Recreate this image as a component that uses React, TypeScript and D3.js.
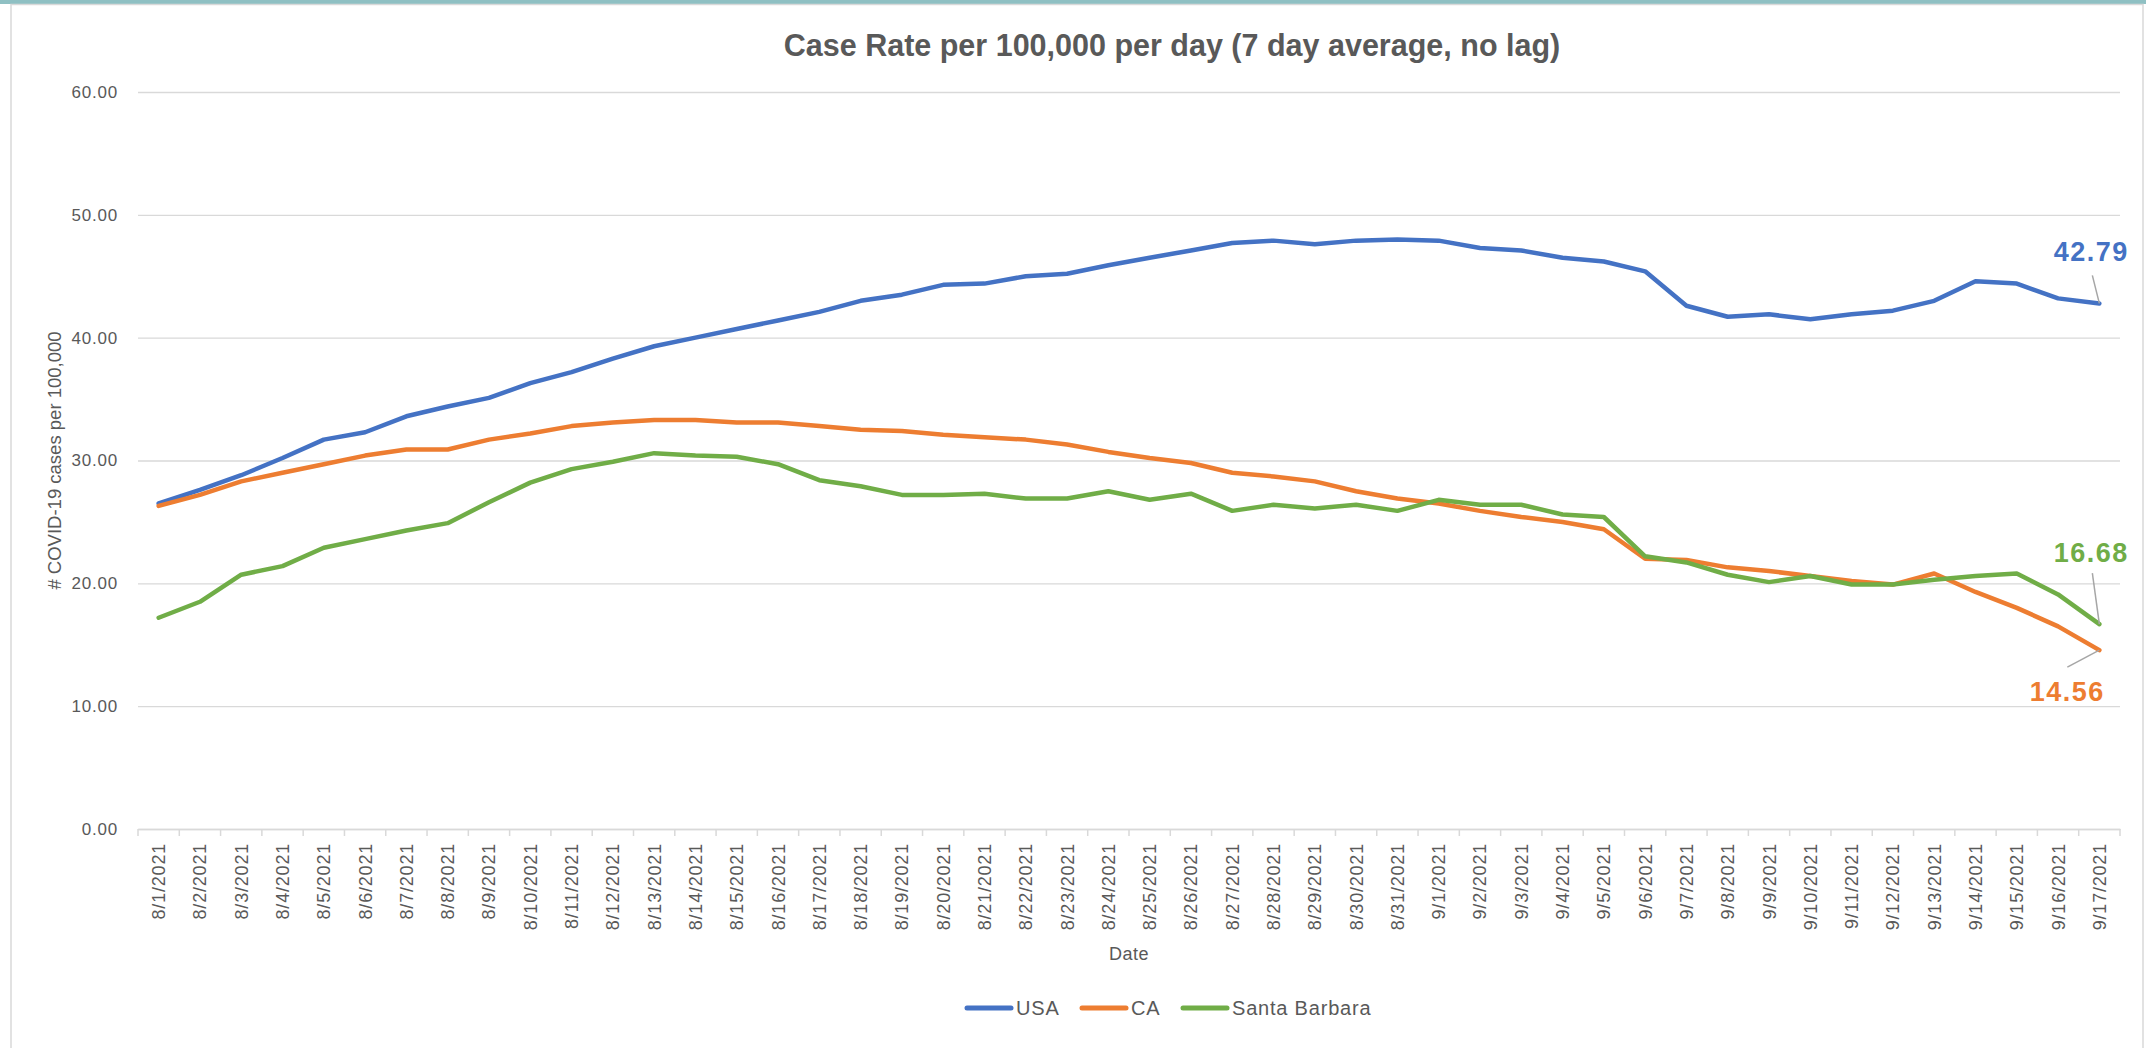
import React, { useEffect, useRef } from "react";
import * as d3 from "d3";

const dates = [
  "8/1/2021", "8/2/2021", "8/3/2021", "8/4/2021", "8/5/2021", "8/6/2021", "8/7/2021", "8/8/2021",
  "8/9/2021", "8/10/2021", "8/11/2021", "8/12/2021", "8/13/2021", "8/14/2021", "8/15/2021", "8/16/2021",
  "8/17/2021", "8/18/2021", "8/19/2021", "8/20/2021", "8/21/2021", "8/22/2021", "8/23/2021", "8/24/2021",
  "8/25/2021", "8/26/2021", "8/27/2021", "8/28/2021", "8/29/2021", "8/30/2021", "8/31/2021", "9/1/2021",
  "9/2/2021", "9/3/2021", "9/4/2021", "9/5/2021", "9/6/2021", "9/7/2021", "9/8/2021", "9/9/2021",
  "9/10/2021", "9/11/2021", "9/12/2021", "9/13/2021", "9/14/2021", "9/15/2021", "9/16/2021", "9/17/2021",
];

const usa = [
  26.5, 27.6, 28.8, 30.2, 31.7, 32.3, 33.6, 34.4, 35.1, 36.3,
  37.2, 38.3, 39.3, 40.0, 40.7, 41.4, 42.1, 43.0, 43.5, 44.3,
  44.4, 45.0, 45.2, 45.9, 46.5, 47.1, 47.7, 47.9, 47.6, 47.9,
  48.0, 47.9, 47.3, 47.1, 46.5, 46.2, 45.4, 42.6, 41.7, 41.9,
  41.5, 41.9, 42.2, 43.0, 44.6, 44.4, 43.2, 42.79,
];

const ca = [
  26.3, 27.2, 28.3, 29.0, 29.7, 30.4, 30.9, 30.9, 31.7, 32.2,
  32.8, 33.1, 33.3, 33.3, 33.1, 33.1, 32.8, 32.5, 32.4, 32.1,
  31.9, 31.7, 31.3, 30.7, 30.2, 29.8, 29.0, 28.7, 28.3, 27.5,
  26.9, 26.5, 25.9, 25.4, 25.0, 24.4, 22.0, 21.9, 21.3, 21.0,
  20.6, 20.2, 19.9, 20.8, 19.3, 18.0, 16.5, 14.56,
];

const santaBarbara = [
  17.2, 18.5, 20.7, 21.4, 22.9, 23.6, 24.3, 24.9, 26.6, 28.2,
  29.3, 29.9, 30.6, 30.4, 30.3, 29.7, 28.4, 27.9, 27.2, 27.2,
  27.3, 26.9, 26.9, 27.5, 26.8, 27.3, 25.9, 26.4, 26.1, 26.4,
  25.9, 26.8, 26.4, 26.4, 25.6, 25.4, 22.2, 21.7, 20.7, 20.1,
  20.6, 19.9, 19.9, 20.3, 20.6, 20.8, 19.1, 16.68,
];

const yTicks = [0, 10, 20, 30, 40, 50, 60];

const seriesNames = ["USA", "CA", "Santa Barbara"];
const seriesColors = ["#4472C4", "#ED7D31", "#70AD47"];

const W = 2146, H = 1048;
const FONT = "'Liberation Sans', Arial, sans-serif";
const GREY = "#595959";

export default function App() {
  const ref = useRef<SVGSVGElement>(null);

  useEffect(() => {
    const svg = d3.select(ref.current);
    svg.selectAll("*").remove();

    const left = 138, right = 2120, top = 92, bottom = 829;

    // frame
    svg.append("rect").attr("x", 0).attr("y", 0).attr("width", W).attr("height", H).attr("fill", "#fff");
    svg.append("rect").attr("x", 0).attr("y", 0).attr("width", W).attr("height", 4).attr("fill", "#8fc0c3");
    svg.append("rect").attr("x", 11).attr("y", 4.5).attr("width", 2132).attr("height", H)
      .attr("fill", "none").attr("stroke", "#d9d9d9").attr("stroke-width", 1.5);

    const x = d3.scaleBand().domain(dates).range([left, right]).padding(0);
    const y = d3.scaleLinear().domain([0, 60]).range([bottom, top]);
    const cx = (d: string) => (x(d) as number) + x.bandwidth() / 2;

    // gridlines + y labels
    const yAxis = svg.append("g")
      .attr("transform", `translate(${left},0)`)
      .call(d3.axisLeft(y).tickValues(yTicks).tickSize(-(right - left)).tickFormat(d3.format(".2f")).tickPadding(20));
    yAxis.select(".domain").remove();
    yAxis.selectAll(".tick line").attr("stroke", "#d9d9d9").attr("stroke-width", 1.3);
    yAxis.selectAll(".tick text")
      .attr("fill", GREY).style("font-family", FONT).style("font-size", "17px").style("letter-spacing", "0.8px");

    // x axis
    const xAxis = svg.append("g")
      .attr("transform", `translate(0,${bottom})`)
      .call(d3.axisBottom(x).tickSize(0));
    xAxis.select(".domain").attr("stroke", "#d9d9d9").attr("stroke-width", 1.5);
    xAxis.selectAll(".tick text")
      .attr("fill", GREY).style("font-family", FONT).style("font-size", "18px").style("letter-spacing", "0.8px")
      .attr("text-anchor", "end")
      .attr("transform", "translate(0,14) rotate(-90)")
      .attr("x", 0).attr("y", 0).attr("dy", "0.36em");
    // category boundary ticks
    xAxis.selectAll(".bound")
      .data([...dates.map((d) => x(d) as number), right])
      .join("line")
      .attr("x1", (d) => d).attr("x2", (d) => d)
      .attr("y1", 0).attr("y2", 7)
      .attr("stroke", "#d9d9d9").attr("stroke-width", 1.5);

    // lines
    const all = [usa, ca, santaBarbara];
    const line = d3.line<number>()
      .x((_, i) => cx(dates[i]))
      .y((v) => y(v));
    all.forEach((vals, k) => {
      svg.append("path")
        .attr("d", line(vals))
        .attr("fill", "none")
        .attr("stroke", seriesColors[k])
        .attr("stroke-width", 4.5)
        .attr("stroke-linejoin", "round")
        .attr("stroke-linecap", "round");
    });

    // end labels with leader lines
    const last = dates.length - 1;
    const lx = cx(dates[last]);
    const labels = [
      { k: 0, dx: -7, dy: -28, tx: -8, ty: -42, anchor: "middle" },
      { k: 1, dx: -32, dy: 17, tx: -32, ty: 51, anchor: "middle" },
      { k: 2, dx: -7, dy: -51, tx: -8, ty: -62, anchor: "middle" },
    ];
    labels.forEach((l) => {
      const v = all[l.k][last];
      const py = y(v);
      svg.append("line")
        .attr("x1", lx).attr("y1", py)
        .attr("x2", lx + l.dx).attr("y2", py + l.dy)
        .attr("stroke", "#a6a6a6").attr("stroke-width", 1.5);
      svg.append("text")
        .attr("x", lx + l.tx).attr("y", py + l.ty)
        .attr("text-anchor", l.anchor)
        .attr("fill", seriesColors[l.k])
        .style("font-family", FONT).style("font-size", "27px").style("font-weight", "bold")
        .style("letter-spacing", "1.5px")
        .text(v.toFixed(2));
    });

    // title
    svg.append("text")
      .attr("x", 1172).attr("y", 56)
      .attr("text-anchor", "middle")
      .attr("fill", GREY)
      .style("font-family", FONT).style("font-size", "30.5px").style("font-weight", "bold")
      .text("Case Rate per 100,000 per day (7 day average, no lag)");

    // axis titles
    svg.append("text")
      .attr("transform", `translate(61,${(top + bottom) / 2}) rotate(-90)`)
      .attr("text-anchor", "middle")
      .attr("fill", GREY)
      .style("font-family", FONT).style("font-size", "18.5px")
      .text("# COVID-19 cases per 100,000");
    svg.append("text")
      .attr("x", (left + right) / 2).attr("y", 960)
      .attr("text-anchor", "middle")
      .attr("fill", GREY)
      .style("font-family", FONT).style("font-size", "18px").style("letter-spacing", "0.5px")
      .text("Date");

    // legend
    const legendX = [965, 1080, 1181];
    const ly = 1008;
    seriesNames.forEach((name, k) => {
      svg.append("line")
        .attr("x1", legendX[k] + 2).attr("x2", legendX[k] + 46)
        .attr("y1", ly).attr("y2", ly)
        .attr("stroke", seriesColors[k]).attr("stroke-width", 5).attr("stroke-linecap", "round");
      svg.append("text")
        .attr("x", legendX[k] + 51).attr("y", ly).attr("dy", "0.36em")
        .attr("fill", GREY)
        .style("font-family", FONT).style("font-size", "20px").style("letter-spacing", "0.8px")
        .text(name);
    });
  }, []);

  return (
    <svg ref={ref} width={W} height={H}
      style={{ position: "absolute", left: 0, top: 0, display: "block" }} />
  );
}
